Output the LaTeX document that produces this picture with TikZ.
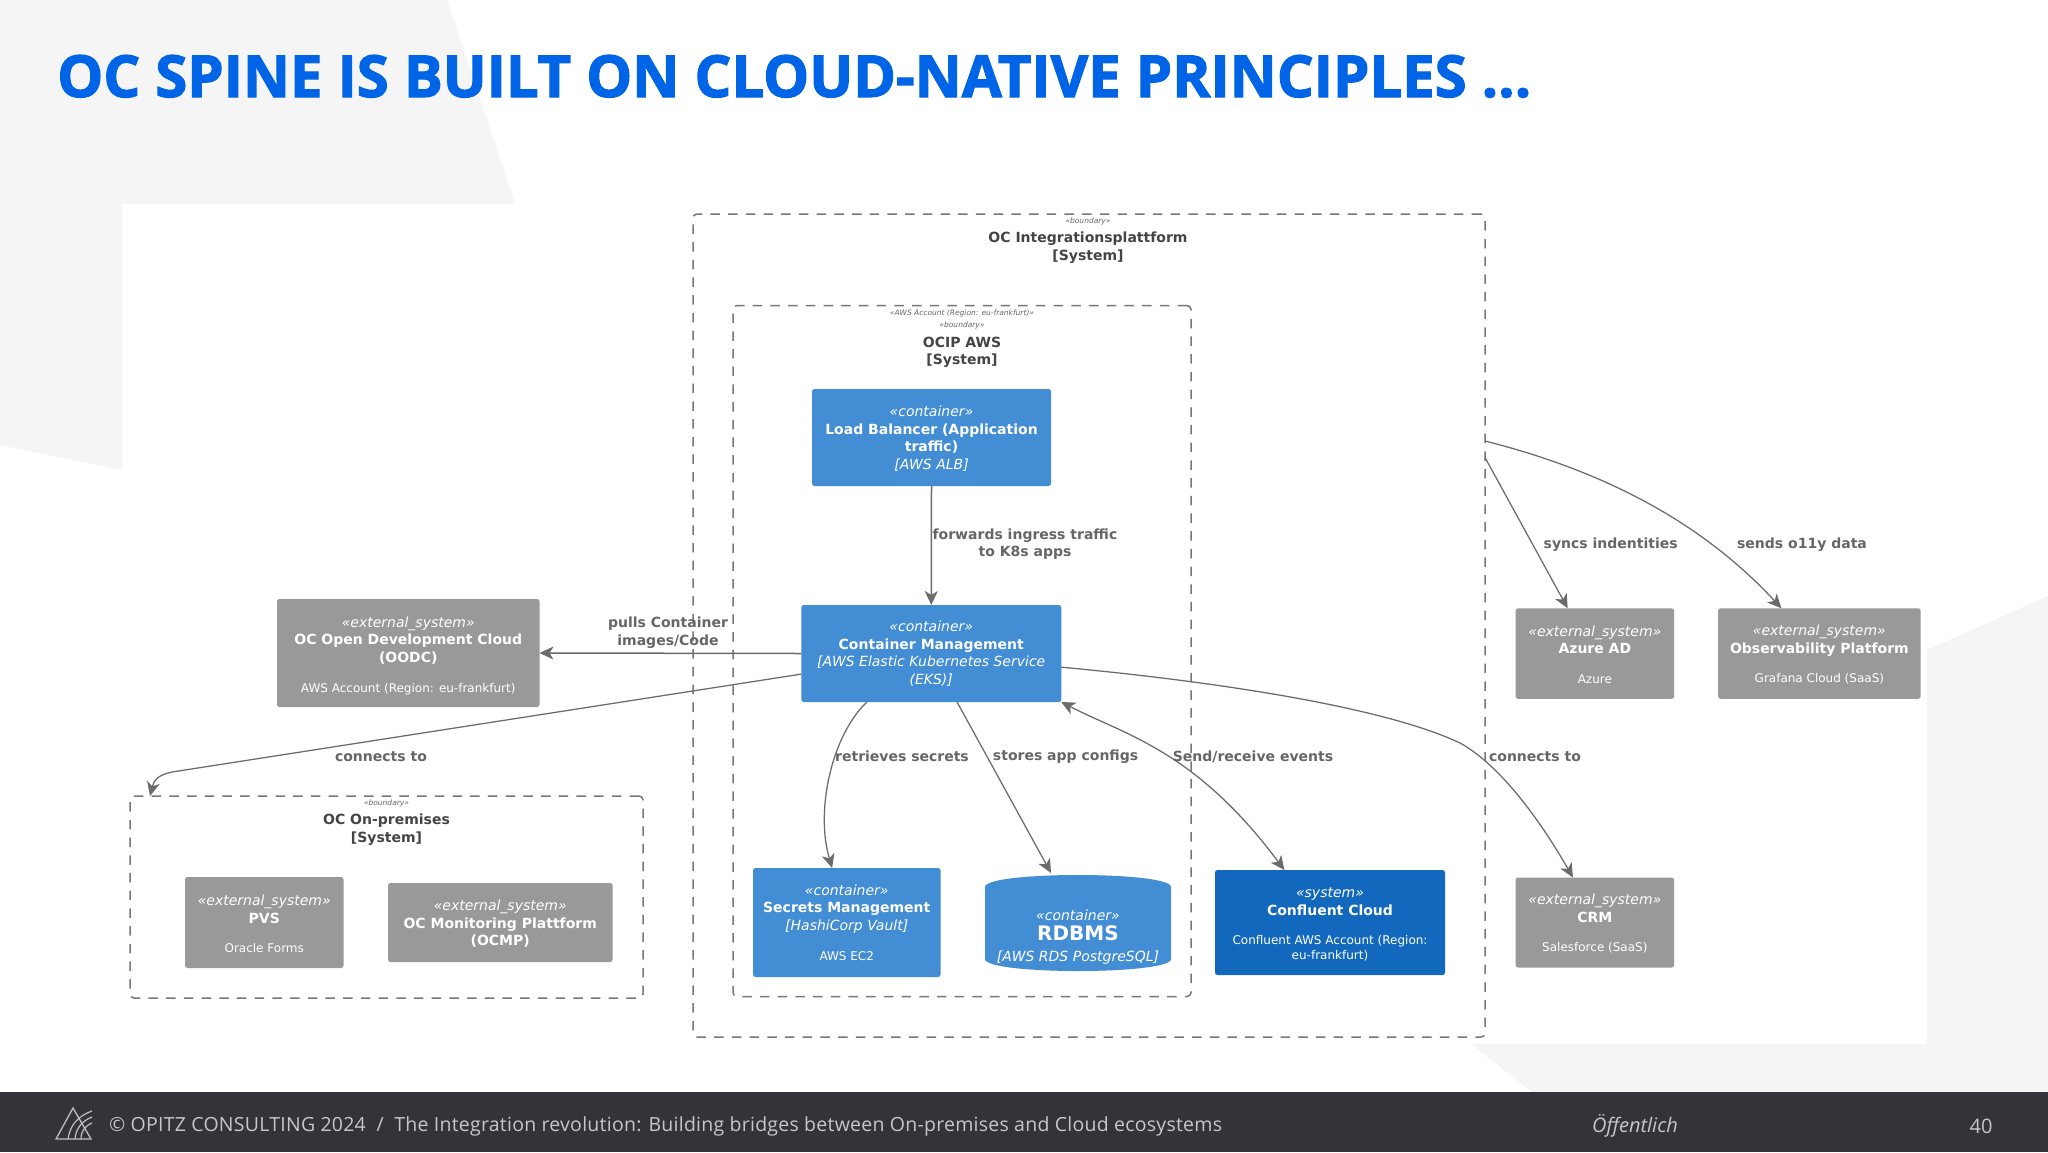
\documentclass[tikz,border=0pt]{standalone}
\usepackage{fontspec}
\usetikzlibrary{arrows.meta,calc}
\setmainfont{Open Sans}
\newfontfamily\diagfont{DejaVu Sans}
\newfontfamily\titlefont{Open Sans}[BoldFeatures={FakeBold=2}]
\newfontfamily\footfont{Open Sans}[LetterSpace=1.3]

\definecolor{pagegray}{HTML}{F5F5F6}
\definecolor{footgray}{HTML}{33343A}
\definecolor{titleblue}{HTML}{0064E6}
\definecolor{contblue}{HTML}{438DD5}
\definecolor{sysblue}{HTML}{1168BD}
\definecolor{extgray}{HTML}{999999}
\definecolor{linegray}{HTML}{6B6B6B}
\definecolor{dashgray}{HTML}{777777}
\definecolor{labgray}{HTML}{666666}
\definecolor{bndtext}{HTML}{444444}

\newcommand{\bxf}{\fontsize{14}{17.6}\selectfont\bfseries}
\newcommand{\stf}{\fontsize{14}{17.6}\selectfont\mdseries\itshape}
\newcommand{\dsf}{\fontsize{12}{14.4}\selectfont\mdseries}
\newcommand{\dn}[1]{\rule{0pt}{#1pt}} % taller first line pushes the text block down

\tikzset{
  box/.style={rectangle,rounded corners=2.5pt,text=white,align=center,inner sep=0pt,outer sep=0pt,font=\diagfont\bxf},
  cont/.style={box,fill=contblue},
  sys/.style={box,fill=sysblue},
  ext/.style={box,fill=extgray},
  bnd/.style={rectangle,rounded corners=4pt,draw=dashgray,line width=1.5pt,dash pattern=on 9.5pt off 8.2pt,inner sep=0pt,outer sep=0pt},
  bndlab/.style={text=bndtext,align=center,inner sep=0pt,font=\diagfont\bxf},
  bndst/.style={text=labgray,align=center,inner sep=0pt,font=\diagfont\fontsize{7.5}{9}\selectfont\itshape},
  lab/.style={text=labgray,align=center,inner sep=0pt,font=\diagfont\bxf},
  rel/.style={draw=linegray,line width=1.25pt,-{Stealth[inset=4pt,length=14pt,width=13pt]}},
  birel/.style={rel,{Stealth[inset=4pt,length=14pt,width=13pt]}-{Stealth[inset=4pt,length=14pt,width=13pt]}},
}

\begin{document}
\begin{tikzpicture}[x=1pt,y=-1pt]
\useasboundingbox (0,0) rectangle (2048,1152);

% background
\fill[white] (0,0) rectangle (2048,1152);
\fill[pagegray] (0,0) -- (447,0) -- (515,204) -- (122,204) -- (122,470) -- (0,445) -- cycle;
\fill[pagegray] (1927,650) -- (2048,596) -- (2048,1092) -- (1532,1092) -- (1471,1044) -- (1927,1044) -- cycle;
\fill[footgray] (0,1092) rectangle (2048,1152);

% title
\node[anchor=base west,inner sep=0pt,text=titleblue,font=\titlefont\fontsize{58}{60}\selectfont\bfseries] (title) at (57,97) {OC SPINE IS BUILT ON CLOUD-NATIVE PRINCIPLES \dots};

% boundaries
\node[bnd,minimum width=792pt,minimum height=823pt] (integ) at (1089,625.5) {};
\node[bnd,minimum width=458pt,minimum height=691pt] (ocip) at (962,651) {};
\node[bnd,minimum width=513pt,minimum height=202pt] (onprem) at (386.5,897) {};

\node[bndst] (integS) at (1088,221) {«boundary»};
\node[bndlab] (integT) at (1088,247.5) {OC Integrationsplattform\\{}[System]};
\node[bndst] (ocipA) at (962,313) {«AWS Account (Region: eu-frankfurt)»};
\node[bndst] (ocipS) at (962,325.5) {«boundary»};
\node[bndlab] (ocipT) at (962,352.5) {OCIP AWS\\{}[System]};
\node[bndst] (onpremS) at (386.5,803.5) {«boundary»};
\node[bndlab] (onpremT) at (386.5,829.5) {OC On-premises\\{}[System]};

% containers
\node[cont,minimum width=239pt,minimum height=97pt] (lb) at (931.5,437.5) {\dn{13.2}{\stf «container»}\\Load Balancer (Application\\traffic)\\{\stf [AWS ALB]}};
\node[cont,minimum width=260pt,minimum height=97pt] (cm) at (931.25,653.5) {{\stf «container»}\\Container Management\\{\stf [AWS Elastic Kubernetes Service}\\{\stf (EKS)]}};
\node[cont,minimum width=187.5pt,minimum height=109pt] (sec) at (846.75,922.5) {{\stf «container»}\\Secrets Management\\{\stf [HashiCorp Vault]}\\[12pt]{\dsf AWS EC2}};
% RDBMS is a plain rectangle node for the connector, the barrel is filled under it
\fill[contblue] (985,887) .. controls (985,871) and (1171,871) .. (1171,887) -- (1171,959) .. controls (1171,975) and (985,975) .. (985,959) -- cycle;
\node[rectangle,inner sep=0pt,outer sep=0pt,minimum width=186pt,minimum height=96pt] (db) at (1078,923) {};
\node[box] (dbT) at (1078,937) {{\stf «container»}\\[3pt]{\fontsize{20}{20.5}\selectfont RDBMS}\\[3pt]{\stf [AWS RDS PostgreSQL]}};
\node[sys,minimum width=230pt,minimum height=105pt] (conf) at (1330,922.5) {\dn{13.6}{\stf «system»}\\Confluent Cloud\\[12pt]{\dsf Confluent AWS Account (Region:}\\[-3.2pt]{\dsf eu-frankfurt)}};

% external systems
\node[ext,minimum width=262.5pt,minimum height=108pt] (oodc) at (408.25,653) {\dn{15.8}{\stf «external\_system»}\\OC Open Development Cloud\\(OODC)\\[12pt]{\dsf AWS Account (Region: eu-frankfurt)}};
\node[ext,minimum width=158.5pt,minimum height=91pt] (pvs) at (264.25,922.5) {\dn{13.2}{\stf «external\_system»}\\PVS\\[12pt]{\dsf Oracle Forms}};
\node[ext,minimum width=224.5pt,minimum height=79pt] (ocmp) at (500.25,922.5) {\dn{13.2}{\stf «external\_system»}\\OC Monitoring Plattform\\(OCMP)};
\node[ext,minimum width=158.5pt,minimum height=90.5pt] (azure) at (1594.85,653.5) {\dn{12.6}{\stf «external\_system»}\\Azure AD\\[12pt]{\dsf Azure}};
\node[ext,minimum width=202.5pt,minimum height=90.5pt] (obs) at (1819.35,653.5) {\dn{12.6}{\stf «external\_system»}\\Observability Platform\\[12pt]{\dsf Grafana Cloud (SaaS)}};
\node[ext,minimum width=158.5pt,minimum height=90pt] (crm) at (1594.85,922.5) {\dn{13.2}{\stf «external\_system»}\\CRM\\[12pt]{\dsf Salesforce (SaaS)}};

% relations
\draw[rel,line width=1.5pt] (lb.south) -- (cm.north);
\draw[rel,line width=1.5pt] (cm.west) -- (oodc.east);
\draw[rel] (cm.189.2) -- (172,772) .. controls (158,775) and (154,780) .. ($(onprem.north west)+(20,0)$);
\draw[rel] (cm.217.5) .. controls (832,735) and (815,810) .. (sec.105.6);
\draw[rel] (cm.298.4) -- ($(db.north)+(-27,-2)$);
\draw[birel] (cm.south east) .. controls (1125,735) and (1195,750) .. (conf.131.6);
\draw[rel] (cm.354.7) .. controls (1200,680) and (1380,705) .. (1460,743) .. controls (1500,765) and (1540,820) .. (crm.116);
\draw[rel] ($(integ.east)+(0,-168)$) -- (azure.121);
\draw[rel] ($(integ.east)+(0,-184.5)$) .. controls (1600,470) and (1700,520) .. (obs.130.6);

% relation labels
\node[lab] (lfwd) at (1025,544) {forwards ingress traffic\\to K8s apps};
\node[lab] (lpull) at (668,632.5) {pulls Container\\images/Code};
\node[lab] (lconL) at (381,756.5) {connects to};
\node[lab] (lret) at (902,756.5) {retrieves secrets};
\node[lab] (lsto) at (1065.6,756.5) {stores app configs};
\node[lab] (lsnd) at (1253,756.5) {Send/receive events};
\node[lab] (lconR) at (1535,756.5) {connects to};
\node[lab] (lsyn) at (1610.7,544.5) {syncs indentities};
\node[lab] (lobs) at (1802,544.5) {sends o11y data};

% footer
\draw[white!75!black,line width=1.3pt,line join=miter] (73,1108) -- (56,1139) -- (91,1139) -- cycle;
\draw[white!75!black,line width=1.2pt] (68,1139) .. controls (70,1125) and (78,1116) .. (92,1111);
\draw[white!75!black,line width=1.2pt] (75,1139) .. controls (76,1128) and (82,1121) .. (92,1117);
\draw[white!75!black,line width=1.2pt] (81,1139) .. controls (81,1131) and (85,1126) .. (92,1123);
\node[anchor=west,inner sep=0pt,text=white!78!black,font=\footfont\fontsize{19.5}{22}\selectfont] (foot) at (109,1126) {© OPITZ CONSULTING 2024\ \ /\ \ The Integration revolution: Building bridges between On-premises and Cloud ecosystems};
\node[anchor=center,inner sep=0pt,text=white!78!black,font=\fontsize{20}{22}\selectfont\itshape] (class) at (1635,1126) {Öffentlich};
\node[anchor=center,inner sep=0pt,text=white!78!black,font=\fontsize{20}{22}\selectfont] (page) at (1981,1126) {40};
\end{tikzpicture}
\end{document}
